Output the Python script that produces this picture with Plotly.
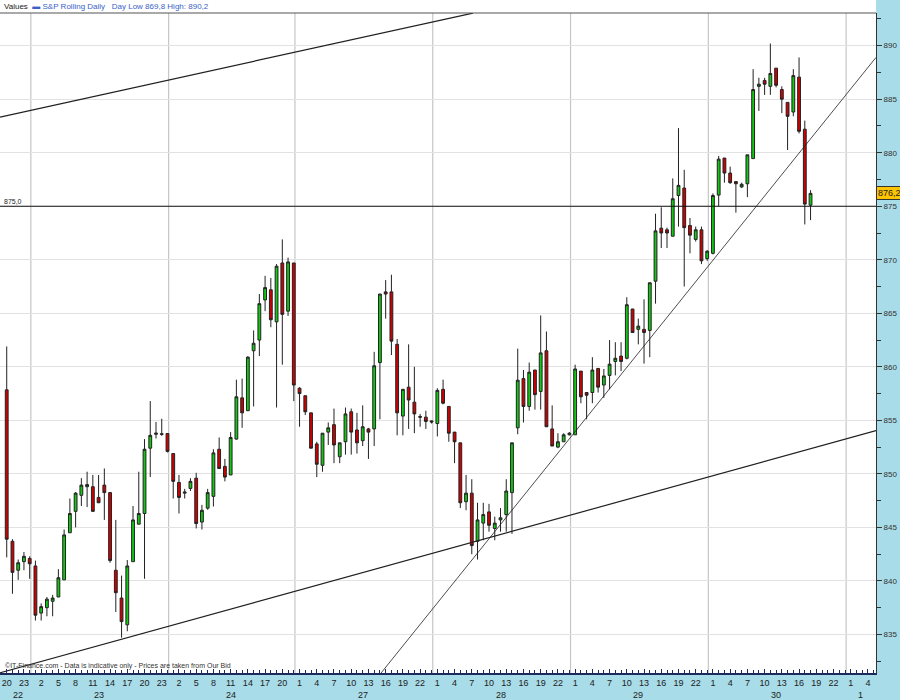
import plotly.graph_objects as go

# ---------------- data ----------------
# trading sessions on the axis: day label, first hour, number of hourly slots
session_day = [22, 23, 24, 27, 28, 29, 30, 1]
session_first_hour = [20, 0, 0, 0, 0, 0, 0, 0]
session_slots = [4, 24, 22, 24, 24, 24, 24, 24]

open_ = [857.85, 843.7, 841.0, 841.8, 842.1, 841.4, 837.0, 837.5, 838.1, 838.5,
         840.1, 844.5, 846.5, 848.0, 848.8, 848.8, 847.8, 848.95, 848.25, 841.0,
         838.4, 835.9, 841.8, 845.3, 846.3, 852.4, 853.7, 853.75, 853.77, 851.9,
         849.2, 848.2, 848.64, 849.6, 845.5, 846.8, 847.9, 852.3, 850.7, 849.9,
         853.25, 857.1, 855.9, 861.5, 862.5, 866.25, 867.2, 864.2, 869.7, 865.2,
         869.7, 858.0, 857.3, 855.7, 852.8, 850.8, 853.9, 854.6, 851.6, 853.0,
         855.8, 854.1, 853.1, 854.2, 854.2, 860.4, 867.0, 867.0, 862.1, 855.4,
         858.1, 856.7, 855.35, 855.3, 854.95, 854.7, 857.9, 856.3, 853.9, 852.9,
         847.4, 848.2, 843.7, 845.4, 846.45, 844.9, 845.7, 846.2, 848.25, 854.3,
         858.9, 856.3, 859.7, 857.7, 861.5, 854.2, 852.5, 853.0, 853.65, 853.65,
         859.6, 857.6, 857.6, 859.85, 858.3, 859.2, 860.5, 861.0, 860.8, 865.4,
         863.5, 863.5, 863.4, 868.0, 872.95, 872.8, 872.2, 876.0, 876.7, 873.2,
         871.9, 872.8, 870.1, 870.6, 876.04, 879.5, 878.1, 877.3, 876.8, 877.1,
         879.45, 886.2, 886.75, 886.2, 887.9, 885.9, 884.7, 883.8, 887.06, 882.2,
         875.1]
high = [861.9, 843.9, 842.0, 842.7, 842.3, 841.9, 837.9, 838.5, 838.7, 841.1,
        844.8, 847.7, 848.3, 849.6, 850.2, 849.9, 849.9, 850.5, 848.3, 845.7,
        840.5, 841.95, 847.0, 850.2, 853.25, 856.8, 854.85, 855.15, 853.8, 851.9,
        849.9, 848.6, 849.6, 850.1, 847.1, 848.6, 852.3, 853.4, 851.4, 853.9,
        858.8, 858.9, 861.0, 863.4, 866.8, 868.5, 868.3, 869.6, 871.9, 870.2,
        869.7, 858.1, 857.3, 855.7, 853.0, 853.8, 854.8, 856.1, 852.9, 856.2,
        856.1, 855.7, 856.4, 854.3, 861.4, 866.8, 868.1, 868.6, 862.6, 857.9,
        862.1, 860.0, 855.6, 855.9, 855.0, 858.0, 858.8, 856.3, 853.9, 852.9,
        849.9, 849.5, 847.3, 847.3, 847.2, 846.0, 846.8, 849.5, 852.9, 861.7,
        859.7, 860.4, 859.7, 864.8, 863.3, 856.4, 853.8, 853.8, 853.9, 860.2,
        859.6, 857.6, 860.9, 859.85, 859.8, 862.5, 862.3, 862.3, 866.5, 865.4,
        864.5, 866.3, 867.85, 874.3, 874.9, 873.0, 877.6, 882.3, 878.4, 873.9,
        873.1, 873.1, 870.9, 876.2, 879.7, 879.5, 878.7, 877.3, 877.2, 879.8,
        887.8, 887.0, 887.0, 890.2, 887.9, 886.2, 884.7, 887.8, 888.9, 883.0,
        876.5]
low = [842.2, 838.8, 840.1, 841.0, 840.2, 836.3, 836.3, 836.7, 836.7, 838.5,
       840.1, 844.5, 845.0, 847.0, 846.9, 846.5, 847.3, 845.7, 841.7, 837.1,
       834.7, 835.3, 841.8, 845.3, 840.2, 849.7, 853.3, 853.55, 852.0, 847.7,
       846.3, 847.7, 848.4, 844.9, 844.8, 846.65, 846.95, 850.5, 849.3, 849.9,
       853.2, 854.3, 855.9, 856.3, 861.0, 865.2, 863.7, 856.2, 860.2, 864.75,
       856.8, 854.4, 855.5, 852.4, 849.7, 850.2, 852.7, 851.0, 851.0, 851.8,
       851.8, 851.9, 852.6, 851.4, 852.6, 855.1, 864.5, 861.1, 853.6, 853.6,
       854.2, 853.8, 854.4, 854.2, 854.7, 853.5, 856.5, 853.0, 851.0, 846.8,
       846.6, 842.5, 842.0, 843.8, 844.6, 843.8, 844.6, 844.6, 844.4, 853.7,
       854.8, 855.9, 856.0, 856.0, 854.4, 852.6, 852.4, 853.0, 853.6, 853.65,
       856.6, 855.1, 856.6, 857.6, 857.1, 857.9, 859.2, 859.6, 860.7, 863.2,
       862.1, 860.3, 860.9, 865.9, 871.1, 871.1, 872.2, 873.1, 867.5, 870.6,
       871.7, 869.6, 869.9, 870.5, 875.0, 877.2, 877.1, 874.4, 876.7, 875.85,
       879.45, 883.9, 885.4, 885.4, 886.1, 883.7, 880.25, 883.4, 881.8, 873.3,
       873.7]
close = [843.9, 840.8, 841.7, 842.3, 841.6, 836.8, 837.6, 838.3, 838.4, 840.3,
         844.3, 846.3, 848.2, 848.95, 849.0, 846.5, 847.3, 848.25, 841.9, 838.9,
         836.2, 841.4, 845.7, 846.3, 852.3, 853.6, 853.8, 853.7, 852.1, 849.3,
         847.8, 848.3, 849.3, 845.36, 846.6, 848.25, 851.96, 850.5, 849.7, 853.4,
         857.2, 855.7, 860.9, 862.2, 865.9, 867.4, 864.4, 869.4, 864.9, 869.8,
         858.3, 857.5, 855.8, 852.4, 850.9, 853.8, 854.3, 852.7, 852.9, 855.6,
         853.9, 852.9, 854.4, 853.9, 860.1, 866.8, 866.8, 862.4, 855.7, 857.9,
         856.9, 855.6, 855.3, 854.9, 854.85, 857.8, 856.6, 853.8, 853.0, 847.3,
         848.2, 843.3, 845.7, 846.2, 845.2, 845.4, 845.9, 848.4, 852.9, 858.75,
         856.3, 859.5, 857.4, 861.3, 854.4, 852.6, 853.0, 853.65, 853.8, 859.8,
         857.2, 857.35, 859.7, 858.1, 859.15, 860.25, 860.8, 860.5, 865.8, 863.2,
         863.8, 863.2, 867.85, 872.7, 872.5, 872.5, 875.7, 876.95, 873.0, 872.3,
         872.8, 869.9, 870.8, 876.0, 879.4, 878.1, 877.2, 877.1, 877.05, 879.8,
         885.9, 886.4, 886.4, 887.4, 886.3, 885.0, 883.4, 887.2, 882.0, 875.2,
         876.2]

# analyst lines, (slot index, price) end points
upper_channel_x = [-1.17, 81.2]
upper_channel_y = [883.33, 893.04]
lower_channel_x = [-1.17, 151.4]
lower_channel_y = [831.42, 854.04]
steep_trend_x = [65.2, 151.4]
steep_trend_y = [831.4, 888.9]
support_level = 875.0
last_price_label = "876,2"
last_price = 876.2

header_series = "S&P Rolling Daily"
header_range = "Day Low 869,8 High: 890,2"
footer_text = "©IT-Finance.com - Data is indicative only - Prices are taken from Our Bid"

# ---------------- build axis slots ----------------
slot_hour = []
slot_day = []
day_first = []
day_last = []
for d, h0, n in zip(session_day, session_first_hour, session_slots):
    day_first.append(len(slot_hour))
    for k in range(n):
        slot_hour.append(h0 + k)
        slot_day.append(d)
    day_last.append(len(slot_hour) - 1)

x = list(range(len(open_)))
XMIN, XMAX = -1.17, 151.4
YMIN, YMAX = 831.4, 893.05

tickvals = [i for i in range(len(slot_hour)) if i % 3 == 0 and i <= XMAX]
ticktext = [str(slot_hour[i]) for i in tickvals]

FONT = "Liberation Sans, Arial, sans-serif"
BG = "#a8dce8"

fig = go.Figure()

fig.add_trace(go.Candlestick(
    x=x, open=open_, high=high, low=low, close=close,
    increasing=dict(line=dict(color="#222222", width=1), fillcolor="#12c812"),
    decreasing=dict(line=dict(color="#222222", width=1), fillcolor="#d00000"),
    whiskerwidth=0, showlegend=False, hoverinfo="x+y",
))

for lx, ly, w in [(upper_channel_x, upper_channel_y, 1.2),
                  (lower_channel_x, lower_channel_y, 1.2),
                  (steep_trend_x, steep_trend_y, 0.8)]:
    fig.add_trace(go.Scatter(x=lx, y=ly, mode="lines",
                             line=dict(color="#202020", width=w),
                             showlegend=False, hoverinfo="skip"))

shapes = []
# white header strip
shapes.append(dict(type="rect", xref="paper", yref="paper", x0=0, x1=1,
                   y0=1, y1=1 + 13 / 660, fillcolor="white", line=dict(width=0),
                   layer="below"))
# vertical day grid lines
for f in day_first[1:]:
    if f <= XMAX:
        shapes.append(dict(type="line", xref="x", yref="paper", x0=f + 0.2, x1=f + 0.2,
                           y0=0, y1=1, line=dict(color="#c6c6c6", width=1.2),
                           layer="below"))
# support level
shapes.append(dict(type="line", xref="paper", yref="y", x0=0, x1=1,
                   y0=support_level, y1=support_level,
                   line=dict(color="#111111", width=1.2)))
# top frame line
shapes.append(dict(type="line", xref="paper", yref="paper", x0=0, x1=1,
                   y0=1, y1=1, line=dict(color="#555555", width=1.2)))

annotations = []
for d, f, l in zip(session_day, day_first, day_last):
    a = max(f, XMIN)
    b = min(l, XMAX - 1)
    annotations.append(dict(x=(a + b) / 2 + 0.5, y=-0.0335, xref="x", yref="paper",
                            text=str(d), showarrow=False, yanchor="middle",
                            font=dict(family=FONT, size=9, color="#222222")))
annotations.append(dict(x=0.002, y=support_level, xref="paper", yref="y",
                        text=f"{support_level:.1f}".replace(".", ","),
                        showarrow=False, xanchor="left", yanchor="bottom", yshift=-1,
                        font=dict(family=FONT, size=7, color="#222222")))
annotations.append(dict(x=1.0, y=last_price, xref="paper", yref="y",
                        text=last_price_label, showarrow=False, xanchor="left",
                        yanchor="middle", bgcolor="#ffc400", bordercolor="#333333",
                        borderwidth=1, borderpad=1,
                        font=dict(family=FONT, size=9, color="#222222")))
annotations.append(dict(x=0.002, y=1 + 6.5 / 660, xref="paper", yref="paper",
                        text="Values  <span style='color:#3a5fc8'>▬ " + header_series +
                             "   " + header_range + "</span>",
                        showarrow=False, xanchor="left", yanchor="middle",
                        font=dict(family=FONT, size=8, color="#222222")))
annotations.append(dict(x=0.003, y=0.002, xref="paper", yref="paper",
                        text=footer_text, showarrow=False, xanchor="left",
                        yanchor="bottom",
                        font=dict(family=FONT, size=7, color="#333333")))

fig.update_layout(
    width=900, height=700,
    margin=dict(l=0, r=24, t=13, b=27),
    paper_bgcolor=BG, plot_bgcolor="white",
    font=dict(family=FONT, size=9, color="#222222"),
    shapes=shapes, annotations=annotations,
    xaxis=dict(range=[XMIN, XMAX], rangeslider=dict(visible=False),
               tickmode="array", tickvals=tickvals, ticktext=ticktext,
               showgrid=False, zeroline=False,
               ticks="inside", ticklen=4, tickcolor="#1c2a5c",
               showline=True, linecolor="#1c2a5c", linewidth=2,
               tickfont=dict(family=FONT, size=9, color="#222222"),
               minor=dict(dtick=1, tick0=0, ticks="inside", ticklen=3,
                          tickcolor="#1c2a5c", showgrid=False)),
    yaxis=dict(range=[YMIN, YMAX], side="right", dtick=5, tick0=830,
               tickformat="d", showgrid=True, gridcolor="#e2e2e2", gridwidth=1,
               zeroline=False, ticks="outside", ticklen=5, tickcolor="#333333",
               showline=True, linecolor="#333333", linewidth=1,
               tickfont=dict(family=FONT, size=8, color="#333333"),
               minor=dict(dtick=2.5, ticks="outside", ticklen=4,
                          tickcolor="#333333", showgrid=False)),
)

fig.write_html("out.html",
               config={"displayModeBar": False},
               post_script="document.body.style.margin='0';"
                           "document.body.style.overflow='hidden';")
